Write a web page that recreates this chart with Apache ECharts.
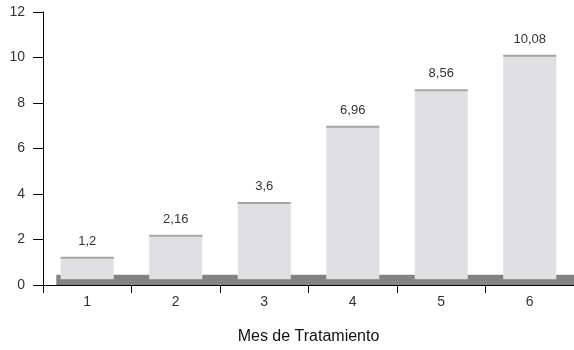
<!DOCTYPE html>
<html>
<head>
<meta charset="utf-8">
<script src="https://cdn.jsdelivr.net/npm/echarts@6/dist/echarts.min.js"></script>
<style>
  html, body { margin: 0; padding: 0; background: #fff; }
  #chart { width: 574px; height: 350px; }
</style>
</head>
<body>
<div id="chart"></div>
<script>
// Treatment month categories and measured values
const months = ['1', '2', '3', '4', '5', '6'];
const values = [1.2, 2.16, 3.6, 6.96, 8.56, 10.08];
const yMin = 0;
const yMax = 12;
const yStep = 2;

// Floor strip drawn under the columns, and where the columns start on it
const floorTop = 0.45;
const columnBase = 0.25;

const FONT = '"Liberation Sans", Arial, sans-serif';
const fmt = v => String(v).replace('.', ',');

function renderFloor(params, api) {
  const first = api.coord([0, 0]);
  const last = api.coord([months.length - 1, floorTop]);
  const band = api.size([1, 0])[0];
  const x0 = first[0] - 0.35 * band;
  const x1 = last[0] + 0.5 * band;
  return {
    type: 'rect',
    shape: { x: x0, y: last[1], width: x1 - x0, height: first[1] - last[1] },
    style: { fill: '#838383' }
  };
}

function renderColumn(params, api) {
  const i = api.value(0);
  const v = api.value(1);
  const top = api.coord([i, v]);
  const bottom = api.coord([i, columnBase]);
  const w = api.size([1, 0])[0] * 0.6;
  return {
    type: 'group',
    children: [
      {
        type: 'rect',
        shape: { x: top[0] - w / 2, y: top[1], width: w, height: bottom[1] - top[1] },
        style: { fill: '#e0e0e2' }
      },
      {
        type: 'line',
        shape: { x1: top[0] - w / 2, y1: top[1], x2: top[0] + w / 2, y2: top[1] },
        style: { stroke: '#a6a6a6', lineWidth: 2 }
      },
      {
        type: 'text',
        x: top[0],
        y: top[1] - 10,
        style: {
          text: fmt(v),
          fill: '#333',
          fontSize: 13,
          fontFamily: FONT,
          align: 'center',
          verticalAlign: 'bottom'
        }
      }
    ]
  };
}

const chart = echarts.init(document.getElementById('chart'), null, { renderer: 'canvas' });
chart.setOption({
  animation: false,
  backgroundColor: '#fff',
  grid: { left: 43, right: 0, top: 12, bottom: 63, containLabel: false },
  xAxis: {
    type: 'category',
    data: months,
    boundaryGap: true,
    axisLine: { show: true, lineStyle: { color: '#000', width: 1 } },
    axisTick: { show: true, length: 8, lineStyle: { color: '#000' } },
    axisLabel: { color: '#333', fontSize: 14, fontFamily: FONT, margin: 10 },
    name: 'Mes de Tratamiento',
    nameLocation: 'middle',
    nameGap: 44,
    nameTextStyle: { color: '#111', fontSize: 16, fontFamily: FONT }
  },
  yAxis: {
    type: 'value',
    min: yMin,
    max: yMax,
    interval: yStep,
    axisLine: { show: true, lineStyle: { color: '#000', width: 1 } },
    axisTick: { show: true, length: 10, lineStyle: { color: '#000' } },
    axisLabel: { color: '#333', fontSize: 14, fontFamily: FONT, margin: 18 },
    splitLine: { show: false }
  },
  series: [
    {
      type: 'custom',
      name: 'floor',
      renderItem: renderFloor,
      data: [[0, floorTop]],
      encode: { x: 0, y: 1 },
      z: 1,
      silent: true
    },
    {
      type: 'custom',
      name: 'columns',
      renderItem: renderColumn,
      data: values.map((v, i) => [i, v]),
      encode: { x: 0, y: 1 },
      z: 2
    }
  ]
});
</script>
</body>
</html>
